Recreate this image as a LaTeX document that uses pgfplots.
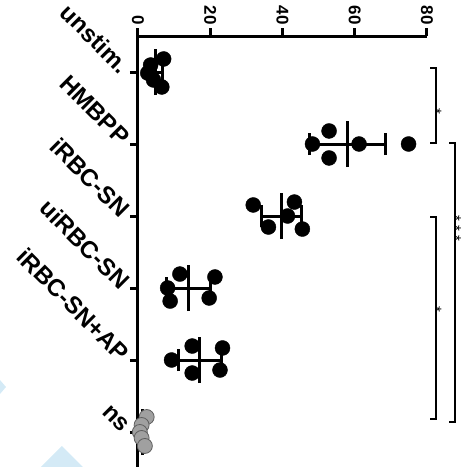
\documentclass[border=0pt]{standalone}
\usepackage{fontspec}
\setmainfont{Liberation Sans}
\usepackage{pgfplots}
\pgfplotsset{compat=1.18}
\definecolor{wm}{RGB}{212,234,246}
\definecolor{nsfill}{RGB}{160,160,160}
\definecolor{nsdraw}{RGB}{95,95,95}
\tikzset{sigstar/.style={rotate=-90, font=\fontsize{15}{15}\selectfont, inner sep=0pt}}
\begin{document}
\begin{tikzpicture}
\useasboundingbox (-138pt,1pt) rectangle (328pt,468pt);
\fill[wm] (-138pt,88pt) -- (-132pt,81pt) -- (-138pt,74pt) -- cycle;
\fill[wm] (-76pt,22pt) -- (-49pt,-5pt) -- (-103pt,-5pt) -- cycle;
\begin{axis}[
  at={(0,0)}, anchor=south west,
  scale only axis, width=289pt, height=432pt,
  xmin=0, xmax=80, ymin=0.5, ymax=6.5,
  axis x line=top, axis y line=left,
  axis line style={line width=3pt,-},
  xtick={0,20,40,60,80},
  ytick={1,2,3,4,5,6},
  yticklabels={ns, iRBC-SN+AP, uiRBC-SN, iRBC-SN, HMBPP, unstim.},
  tick align=outside, major tick length=8pt,
  tick style={line width=3pt,black},
  /pgf/number format/assume math mode=true,
  xticklabel style={rotate=-90, anchor=east, font=\fontsize{17}{17}\selectfont\bfseries},
  yticklabel style={rotate=-45, anchor=east, xshift=-2pt, yshift=-1pt, font=\fontsize{24}{24}\selectfont\bfseries},
  clip=false,
  errbar/.style={black, line width=3pt, no marks},
  brk/.style={black, line width=1.5pt, no marks},
]
% points
\addplot[only marks, mark=*, mark size=7.5pt, mark options={fill=black, draw=black}] coordinates {
 (7.1,6.181) (3.5,6.097) (2.7,5.986) (4.3,5.889) (6.6,5.792)
 (52.9,5.181) (48.3,5.0) (61.2,5.0) (74.9,5.0) (52.9,4.806)
 (31.9,4.153) (43.3,4.194) (41.4,4.0) (36.1,3.847) (45.5,3.819)
 (11.6,3.194) (21.3,3.153) (8.2,3.0) (8.9,2.819) (19.7,2.861)
 (15.0,2.194) (23.4,2.167) (9.3,2.0) (15.0,1.819) (22.7,1.861)
};
\addplot[only marks, mark=*, mark size=7.5pt, mark options={fill=nsfill, draw=nsdraw, line width=0.8pt}] coordinates {
 (2.4,1.208) (1.0,1.097) (0.5,1.0) (1.0,0.917) (1.9,0.806)
};
% mean +- SD
\addplot[errbar] coordinates {(2.91,6) (6.77,6)};
\addplot[errbar] coordinates {(2.91,5.847) (2.91,6.153)};
\addplot[errbar] coordinates {(6.77,5.847) (6.77,6.153)};
\addplot[errbar] coordinates {(4.84,5.68) (4.84,6.32)};
\addplot[errbar] coordinates {(47.53,5) (68.55,5)};
\addplot[errbar] coordinates {(47.53,4.847) (47.53,5.153)};
\addplot[errbar] coordinates {(68.55,4.847) (68.55,5.153)};
\addplot[errbar] coordinates {(58.04,4.68) (58.04,5.32)};
\addplot[errbar] coordinates {(34.09,4) (45.19,4)};
\addplot[errbar] coordinates {(34.09,3.847) (34.09,4.153)};
\addplot[errbar] coordinates {(45.19,3.847) (45.19,4.153)};
\addplot[errbar] coordinates {(39.64,3.68) (39.64,4.32)};
\addplot[errbar] coordinates {(7.79,3) (20.09,3)};
\addplot[errbar] coordinates {(7.79,2.847) (7.79,3.153)};
\addplot[errbar] coordinates {(20.09,2.847) (20.09,3.153)};
\addplot[errbar] coordinates {(13.94,2.68) (13.94,3.32)};
\addplot[errbar] coordinates {(11.15,2) (23.01,2)};
\addplot[errbar] coordinates {(11.15,1.847) (11.15,2.153)};
\addplot[errbar] coordinates {(23.01,1.847) (23.01,2.153)};
\addplot[errbar] coordinates {(17.08,1.68) (17.08,2.32)};
\addplot[errbar] coordinates {(0.59,1) (2.13,1)};
\addplot[errbar] coordinates {(0.59,0.847) (0.59,1.153)};
\addplot[errbar] coordinates {(2.13,0.847) (2.13,1.153)};
\addplot[errbar] coordinates {(1.36,0.68) (1.36,1.32)};
% significance brackets
\addplot[brk] coordinates {(80.9,6.056) (82.5,6.056) (82.5,5.014) (80.9,5.014)};
\addplot[brk] coordinates {(86.1,5.014) (87.8,5.014) (87.8,1.139) (86.1,1.139)};
\addplot[brk] coordinates {(80.9,3.986) (82.5,3.986) (82.5,1.181) (80.9,1.181)};
\node[sigstar] at (axis cs:82.6,5.458) {*};
\node[sigstar] at (axis cs:82.6,2.708) {*};
\node[sigstar] at (axis cs:88.0,3.972) {*};
\node[sigstar] at (axis cs:88.0,3.833) {*};
\node[sigstar] at (axis cs:88.0,3.694) {*};
\end{axis}
\end{tikzpicture}
\end{document}
